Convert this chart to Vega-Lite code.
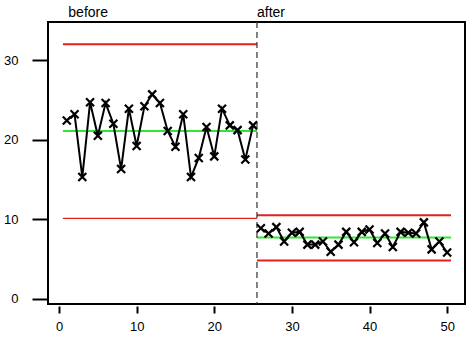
{
  "$schema": "https://vega.github.io/schema/vega-lite/v6.json",
  "width": 417,
  "height": 282,
  "autosize": {"type": "none"},
  "padding": {"left": 48, "top": 22, "right": 9, "bottom": 39},
  "background": "white",
  "config": {
    "view": {"stroke": "black", "strokeWidth": 2},
    "font": "Liberation Sans"
  },
  "datasets": {
    "obs": [
      {"t": 1, "v": 22.4, "phase": "before"},
      {"t": 2, "v": 23.2, "phase": "before"},
      {"t": 3, "v": 15.3, "phase": "before"},
      {"t": 4, "v": 24.7, "phase": "before"},
      {"t": 5, "v": 20.5, "phase": "before"},
      {"t": 6, "v": 24.6, "phase": "before"},
      {"t": 7, "v": 22.0, "phase": "before"},
      {"t": 8, "v": 16.3, "phase": "before"},
      {"t": 9, "v": 23.9, "phase": "before"},
      {"t": 10, "v": 19.2, "phase": "before"},
      {"t": 11, "v": 24.2, "phase": "before"},
      {"t": 12, "v": 25.7, "phase": "before"},
      {"t": 13, "v": 24.6, "phase": "before"},
      {"t": 14, "v": 21.1, "phase": "before"},
      {"t": 15, "v": 19.1, "phase": "before"},
      {"t": 16, "v": 23.2, "phase": "before"},
      {"t": 17, "v": 15.3, "phase": "before"},
      {"t": 18, "v": 17.7, "phase": "before"},
      {"t": 19, "v": 21.6, "phase": "before"},
      {"t": 20, "v": 17.9, "phase": "before"},
      {"t": 21, "v": 23.9, "phase": "before"},
      {"t": 22, "v": 21.8, "phase": "before"},
      {"t": 23, "v": 21.2, "phase": "before"},
      {"t": 24, "v": 17.5, "phase": "before"},
      {"t": 25, "v": 21.8, "phase": "before"},
      {"t": 26, "v": 8.85, "phase": "after"},
      {"t": 27, "v": 8.2, "phase": "after"},
      {"t": 28, "v": 9.0, "phase": "after"},
      {"t": 29, "v": 7.2, "phase": "after"},
      {"t": 30, "v": 8.3, "phase": "after"},
      {"t": 31, "v": 8.4, "phase": "after"},
      {"t": 32, "v": 6.8, "phase": "after"},
      {"t": 33, "v": 6.8, "phase": "after"},
      {"t": 34, "v": 7.2, "phase": "after"},
      {"t": 35, "v": 5.9, "phase": "after"},
      {"t": 36, "v": 6.8, "phase": "after"},
      {"t": 37, "v": 8.4, "phase": "after"},
      {"t": 38, "v": 7.1, "phase": "after"},
      {"t": 39, "v": 8.4, "phase": "after"},
      {"t": 40, "v": 8.7, "phase": "after"},
      {"t": 41, "v": 7.0, "phase": "after"},
      {"t": 42, "v": 8.2, "phase": "after"},
      {"t": 43, "v": 6.5, "phase": "after"},
      {"t": 44, "v": 8.4, "phase": "after"},
      {"t": 45, "v": 8.3, "phase": "after"},
      {"t": 46, "v": 8.2, "phase": "after"},
      {"t": 47, "v": 9.6, "phase": "after"},
      {"t": 48, "v": 6.2, "phase": "after"},
      {"t": 49, "v": 7.2, "phase": "after"},
      {"t": 50, "v": 5.8, "phase": "after"}
    ],
    "limits": [
      {"phase": "before", "kind": "UCL", "x1": 0.5, "x2": 25.5, "v": 32.0},
      {"phase": "before", "kind": "CL", "x1": 0.5, "x2": 25.5, "v": 21.1},
      {"phase": "before", "kind": "LCL", "x1": 0.5, "x2": 25.5, "v": 10.1},
      {"phase": "after", "kind": "UCL", "x1": 25.5, "x2": 50.5, "v": 10.5},
      {"phase": "after", "kind": "CL", "x1": 25.5, "x2": 50.5, "v": 7.7},
      {"phase": "after", "kind": "LCL", "x1": 25.5, "x2": 50.5, "v": 4.8}
    ],
    "labels": [
      {"t": 1.2, "v": 35.4, "label": "before"},
      {"t": 25.5, "v": 35.4, "label": "after"}
    ],
    "split": [
      {"t": 25.5}
    ]
  },
  "layer": [
    {
      "data": {"name": "limits"},
      "transform": [{"filter": "!(datum.phase === 'before' && datum.kind === 'LCL')"}],
      "mark": {"type": "rule", "strokeWidth": 2},
      "encoding": {
        "x": {"field": "x1", "type": "quantitative", "scale": {"domain": [-1.42, 52.3], "nice": false, "zero": false},
          "axis": {"values": [0, 10, 20, 30, 40, 50], "domain": false, "grid": false, "tickSize": 7, "offset": 2, "tickColor": "black", "tickWidth": 2, "labelFontSize": 13, "labelColor": "black", "labelPadding": 7, "title": null, "labelFont": "Liberation Sans"}},
        "x2": {"field": "x2"},
        "y": {"field": "v", "type": "quantitative", "scale": {"domain": [-0.67, 34.8], "nice": false, "zero": false},
          "axis": {"values": [0, 10, 20, 30], "domain": false, "grid": false, "tickSize": 16, "tickColor": "black", "tickWidth": 2, "labelFontSize": 13, "labelColor": "black", "labelPadding": 14, "title": null, "labelFont": "Liberation Sans"}},
        "color": {"field": "kind", "type": "nominal", "scale": {"domain": ["UCL", "CL", "LCL"], "range": ["#e3201c", "#33e633", "#e3201c"]}, "legend": null}
      }
    },
    {
      "data": {"name": "limits"},
      "transform": [{"filter": "datum.phase === 'before' && datum.kind === 'LCL'"}],
      "mark": {"type": "rule", "strokeWidth": 1.2},
      "encoding": {
        "x": {"field": "x1", "type": "quantitative"},
        "x2": {"field": "x2"},
        "y": {"field": "v", "type": "quantitative"},
        "color": {"field": "kind", "type": "nominal", "legend": null}
      }
    },
    {
      "data": {"name": "split"},
      "mark": {"type": "rule", "strokeDash": [6, 4], "strokeWidth": 1.2, "color": "#333333"},
      "encoding": {
        "x": {"field": "t", "type": "quantitative"}
      }
    },
    {
      "data": {"name": "obs"},
      "mark": {"type": "line", "color": "black", "strokeWidth": 2},
      "encoding": {
        "x": {"field": "t", "type": "quantitative"},
        "y": {"field": "v", "type": "quantitative"},
        "detail": {"field": "phase"}
      }
    },
    {
      "data": {"name": "obs"},
      "mark": {"type": "point", "shape": "M-1,-1L1,1M-1,1L1,-1", "filled": false, "stroke": "black", "strokeWidth": 2.2, "size": 64, "opacity": 1},
      "encoding": {
        "x": {"field": "t", "type": "quantitative"},
        "y": {"field": "v", "type": "quantitative"}
      }
    },
    {
      "data": {"name": "labels"},
      "mark": {"type": "text", "align": "left", "baseline": "alphabetic", "fontSize": 14, "color": "black", "clip": false, "font": "Liberation Sans"},
      "encoding": {
        "x": {"field": "t", "type": "quantitative"},
        "y": {"field": "v", "type": "quantitative"},
        "text": {"field": "label"}
      }
    }
  ]
}
